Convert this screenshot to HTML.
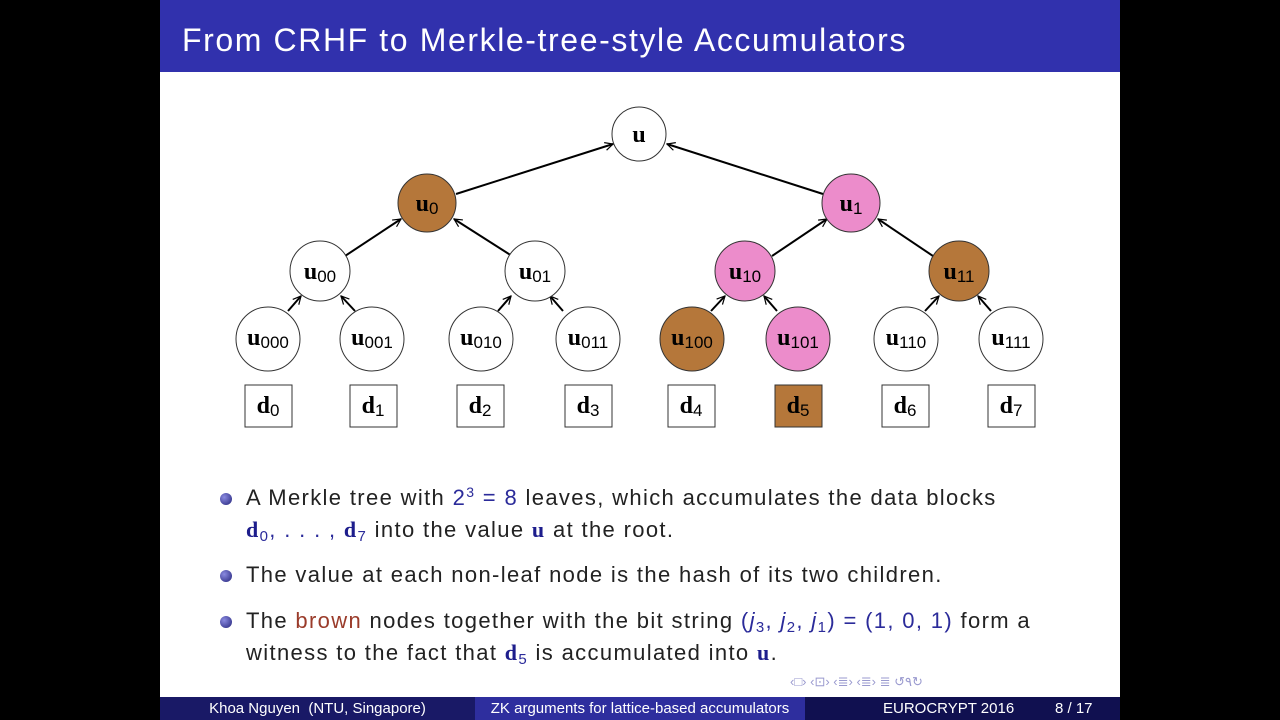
<!DOCTYPE html>
<html><head><meta charset="utf-8"><style>
body{margin:0;background:#000;width:1280px;height:720px;overflow:hidden;position:relative;font-family:"Liberation Sans",sans-serif}
#s{position:absolute;left:160px;top:0;width:960px;height:720px;background:#fff}
#t{position:absolute;left:0;top:0;width:960px;height:72px;background:#3131ad;color:#fff;font-size:32px;line-height:80px;padding-left:22px;box-sizing:border-box;letter-spacing:1.6px}
.b{position:absolute;left:86px;font-size:22px;color:#222;line-height:32px;letter-spacing:1.35px}
.dot{position:absolute;left:60px;width:12px;height:12px;border-radius:50%;background:radial-gradient(circle at 35% 35%,#8a8ae0,#23237a)}
.m{color:#2b2b9a}
.bd{color:#1d1d8c;font-weight:bold;font-family:"Liberation Serif",serif}
sub{font-size:15px;vertical-align:-4px;line-height:0}
sup{font-size:14px;vertical-align:8px;line-height:0}
#f{position:absolute;left:0;top:697px;width:960px;height:23px;font-size:15px;color:#fff;line-height:23px}
#f div{position:absolute;top:0;height:23px}
</style></head><body><div id="s">
<div id="t">From CRHF to Merkle-tree-style Accumulators</div>
<svg width="960" height="460" style="position:absolute;left:0;top:0" font-family="Liberation Serif,serif">
<defs><marker id="a" markerWidth="10" markerHeight="10" refX="9" refY="5" orient="auto" markerUnits="userSpaceOnUse"><path d="M1,1 L9,5 L1,9" fill="none" stroke="#000" stroke-width="1.2"/></marker></defs>
<g stroke="#000" stroke-width="2" marker-end="url(#a)">
<line x1="296" y1="194" x2="453" y2="144"/>
<line x1="663" y1="194" x2="507" y2="144"/>
<line x1="185" y1="256" x2="241" y2="219"/>
<line x1="352" y1="256" x2="294" y2="219"/>
<line x1="612" y1="256" x2="667" y2="219"/>
<line x1="773" y1="256" x2="718" y2="219"/>
<g>
<line x1="128" y1="311" x2="141" y2="296"/><line x1="195" y1="311" x2="181" y2="296"/>
<line x1="338" y1="311" x2="351" y2="296"/><line x1="403" y1="311" x2="390" y2="296"/>
<line x1="551" y1="311" x2="565" y2="296"/><line x1="617" y1="311" x2="604" y2="296"/>
<line x1="765" y1="311" x2="779" y2="296"/><line x1="831" y1="311" x2="818" y2="296"/>
</g></g>
<g stroke="#333" stroke-width="1">
<circle cx="479" cy="134" r="27" fill="#fff"/>
<circle cx="267" cy="203" r="29" fill="#b5773a"/>
<circle cx="691" cy="203" r="29" fill="#ec8ccb"/>
<circle cx="160" cy="271" r="30" fill="#fff"/>
<circle cx="375" cy="271" r="30" fill="#fff"/>
<circle cx="585" cy="271" r="30" fill="#ec8ccb"/>
<circle cx="799" cy="271" r="30" fill="#b5773a"/>
<circle cx="108" cy="339" r="32" fill="#fff"/>
<circle cx="212" cy="339" r="32" fill="#fff"/>
<circle cx="321" cy="339" r="32" fill="#fff"/>
<circle cx="428" cy="339" r="32" fill="#fff"/>
<circle cx="532" cy="339" r="32" fill="#b5773a"/>
<circle cx="638" cy="339" r="32" fill="#ec8ccb"/>
<circle cx="746" cy="339" r="32" fill="#fff"/>
<circle cx="851" cy="339" r="32" fill="#fff"/>
<rect x="85" y="385" width="47" height="42" fill="#fff"/>
<rect x="190" y="385" width="47" height="42" fill="#fff"/>
<rect x="297" y="385" width="47" height="42" fill="#fff"/>
<rect x="405" y="385" width="47" height="42" fill="#fff"/>
<rect x="508" y="385" width="47" height="42" fill="#fff"/>
<rect x="615" y="385" width="47" height="42" fill="#b5773a"/>
<rect x="722" y="385" width="47" height="42" fill="#fff"/>
<rect x="828" y="385" width="47" height="42" fill="#fff"/>
</g>
<g font-size="24" font-weight="bold" fill="#000" text-anchor="middle">
<text x="479" y="142">u</text>
<text x="267" y="211">u<tspan font-size="17" font-weight="normal" font-family="Liberation Sans" dy="3">0</tspan></text>
<text x="691" y="211">u<tspan font-size="17" font-weight="normal" font-family="Liberation Sans" dy="3">1</tspan></text>
<text x="160" y="279">u<tspan font-size="17" font-weight="normal" font-family="Liberation Sans" dy="3">00</tspan></text>
<text x="375" y="279">u<tspan font-size="17" font-weight="normal" font-family="Liberation Sans" dy="3">01</tspan></text>
<text x="585" y="279">u<tspan font-size="17" font-weight="normal" font-family="Liberation Sans" dy="3">10</tspan></text>
<text x="799" y="279">u<tspan font-size="17" font-weight="normal" font-family="Liberation Sans" dy="3">11</tspan></text>
<text x="108" y="345">u<tspan font-size="17" font-weight="normal" font-family="Liberation Sans" dy="3">000</tspan></text>
<text x="212" y="345">u<tspan font-size="17" font-weight="normal" font-family="Liberation Sans" dy="3">001</tspan></text>
<text x="321" y="345">u<tspan font-size="17" font-weight="normal" font-family="Liberation Sans" dy="3">010</tspan></text>
<text x="428" y="345">u<tspan font-size="17" font-weight="normal" font-family="Liberation Sans" dy="3">011</tspan></text>
<text x="532" y="345">u<tspan font-size="17" font-weight="normal" font-family="Liberation Sans" dy="3">100</tspan></text>
<text x="638" y="345">u<tspan font-size="17" font-weight="normal" font-family="Liberation Sans" dy="3">101</tspan></text>
<text x="746" y="345">u<tspan font-size="17" font-weight="normal" font-family="Liberation Sans" dy="3">110</tspan></text>
<text x="851" y="345">u<tspan font-size="17" font-weight="normal" font-family="Liberation Sans" dy="3">111</tspan></text>
<text x="108" y="413">d<tspan font-size="17" font-weight="normal" font-family="Liberation Sans" dy="3">0</tspan></text>
<text x="213" y="413">d<tspan font-size="17" font-weight="normal" font-family="Liberation Sans" dy="3">1</tspan></text>
<text x="320" y="413">d<tspan font-size="17" font-weight="normal" font-family="Liberation Sans" dy="3">2</tspan></text>
<text x="428" y="413">d<tspan font-size="17" font-weight="normal" font-family="Liberation Sans" dy="3">3</tspan></text>
<text x="531" y="413">d<tspan font-size="17" font-weight="normal" font-family="Liberation Sans" dy="3">4</tspan></text>
<text x="638" y="413">d<tspan font-size="17" font-weight="normal" font-family="Liberation Sans" dy="3">5</tspan></text>
<text x="745" y="413">d<tspan font-size="17" font-weight="normal" font-family="Liberation Sans" dy="3">6</tspan></text>
<text x="851" y="413">d<tspan font-size="17" font-weight="normal" font-family="Liberation Sans" dy="3">7</tspan></text>
</g></svg>
<div class="dot" style="top:493px"></div>
<div class="b" style="top:482px">A Merkle tree with <span class="m">2<sup>3</sup> = 8</span> leaves, which accumulates the data blocks<br><span class="bd">d</span><span class="m"><sub>0</sub>, . . . , </span><span class="bd">d</span><span class="m"><sub>7</sub></span> into the value <span class="bd">u</span> at the root.</div>
<div class="dot" style="top:570px"></div>
<div class="b" style="top:559px">The value at each non-leaf node is the hash of its two children.</div>
<div class="dot" style="top:616px"></div>
<div class="b" style="top:605px">The <span style="color:#9a3b2a">brown</span> nodes together with the bit string <span class="m">(<i>j</i><sub>3</sub>, <i>j</i><sub>2</sub>, <i>j</i><sub>1</sub>) = (1, 0, 1)</span> form a<br>witness to the fact that <span class="bd">d</span><span class="m"><sub>5</sub></span> is accumulated into <span class="bd">u</span>.</div>
<div style="position:absolute;left:630px;top:674px;font-size:13px;color:#9a9acf;letter-spacing:6px;white-space:nowrap">‹□› ‹⊡› ‹≣› ‹≣› ≣ ↺۹↻</div>
<div id="f">
<div style="left:0;width:315px;background:#191966;text-align:center">Khoa Nguyen&nbsp; (NTU, Singapore)</div>
<div style="left:315px;width:330px;background:#2e2e9e;text-align:center">ZK arguments for lattice-based accumulators</div>
<div style="left:645px;width:315px;background:#101050"><span style="position:absolute;left:78px">EUROCRYPT 2016</span><span style="position:absolute;left:250px">8 / 17</span></div>
</div>
</div></body></html>
